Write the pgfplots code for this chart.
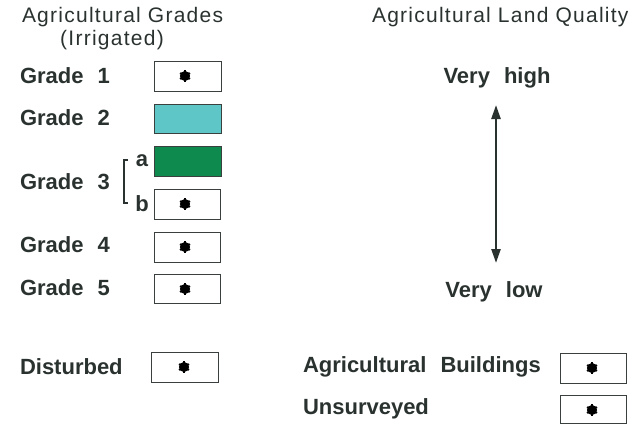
\documentclass[border=0pt]{standalone}
\usepackage{pgfplots}
\pgfplotsset{compat=1.18}
\usepackage{fontspec}
\setmainfont{Liberation Sans}
\newfontfamily\titlefont[LetterSpace=6]{Liberation Sans}
\newfontfamily\labfont[WordSpace={2.3}]{Liberation Sans Bold}
\usetikzlibrary{arrows.meta}
\definecolor{txt}{HTML}{2A322F}
\definecolor{teal2}{HTML}{5EC6C6}
\definecolor{green2}{HTML}{0E8A4F}
\definecolor{edge}{HTML}{3A403E}
\tikzset{
  ttl/.style={text=txt, inner sep=0pt, outer sep=0pt, font=\titlefont\fontsize{10.5}{12}\selectfont},
  lab/.style={text=txt, inner sep=0pt, outer sep=0pt, font=\labfont\fontsize{11}{13}\selectfont},
}
\pgfplotstableread{
x y
185 76
185 204
185 247
185 289
184 367
592 368
592 410
}\stars
\begin{document}
\begin{tikzpicture}
\begin{axis}[
  width=318.5pt, height=212pt, scale only axis,
  xmin=0, xmax=637, ymin=0, ymax=424, y dir=reverse,
  hide axis, clip=false,
]
\path (axis cs:0,0) rectangle (axis cs:637,424);
% boxes
\addplot[draw=edge, line width=0.5pt, fill=white] coordinates {(154,61) (221,61) (221,91) (154,91)} -- cycle;
\addplot[draw=edge, line width=0.5pt, fill=teal2] coordinates {(154,104) (221,104) (221,133) (154,133)} -- cycle;
\addplot[draw=edge, line width=0.5pt, fill=green2] coordinates {(154,146) (221,146) (221,176) (154,176)} -- cycle;
\addplot[draw=edge, line width=0.5pt, fill=white] coordinates {(154,189) (220,189) (220,219) (154,219)} -- cycle;
\addplot[draw=edge, line width=0.5pt, fill=white] coordinates {(154,232) (220,232) (220,262) (154,262)} -- cycle;
\addplot[draw=edge, line width=0.5pt, fill=white] coordinates {(154,274) (220,274) (220,303) (154,303)} -- cycle;
\addplot[draw=edge, line width=0.5pt, fill=white] coordinates {(151,352) (218,352) (218,382) (151,382)} -- cycle;
\addplot[draw=edge, line width=0.5pt, fill=white] coordinates {(560,353) (626,353) (626,383) (560,383)} -- cycle;
\addplot[draw=edge, line width=0.5pt, fill=white] coordinates {(560,395) (626,395) (626,423.5) (560,423.5)} -- cycle;
% stars
\addplot[only marks, mark=*, mark size=2.3pt, draw=black, fill=black] table {\stars};
\addplot[only marks, mark=asterisk, mark size=2.9pt, draw=black, line width=0.9pt] table {\stars};
% bracket
\addplot[draw=txt, line width=0.6pt] coordinates {(128,160) (124,160) (124,203) (128,203)};
% arrow
\addplot[draw=txt, line width=1.2pt, {Triangle[length=7pt,width=4.5pt]}-{Triangle[length=7pt,width=4.5pt]}] coordinates {(496,105) (496,263)};
% titles
\node[ttl, anchor=west] at (axis cs:22,17) {Agricultural Grades};
\node[ttl] at (axis cs:112,40) {(Irrigated)};
\node[ttl, anchor=west] at (axis cs:372,17) {Agricultural Land Quality};
% labels
\node[lab, anchor=west] at (axis cs:20,76) {Grade 1};
\node[lab, anchor=west] at (axis cs:20,118) {Grade 2};
\node[lab, anchor=west] at (axis cs:20,182) {Grade 3};
\node[lab, anchor=west] at (axis cs:20,245) {Grade 4};
\node[lab, anchor=west] at (axis cs:20,288) {Grade 5};
\node[lab] at (axis cs:142,161) {a};
\node[lab] at (axis cs:142,204) {b};
\node[lab, anchor=west] at (axis cs:20,367) {Disturbed};
\node[lab, anchor=west] at (axis cs:303,367) {Agricultural Buildings};
\node[lab, anchor=west] at (axis cs:303,409) {Unsurveyed};
\node[lab] at (axis cs:497,78) {Very high};
\node[lab] at (axis cs:494,292) {Very low};
\end{axis}
\end{tikzpicture}
\end{document}
